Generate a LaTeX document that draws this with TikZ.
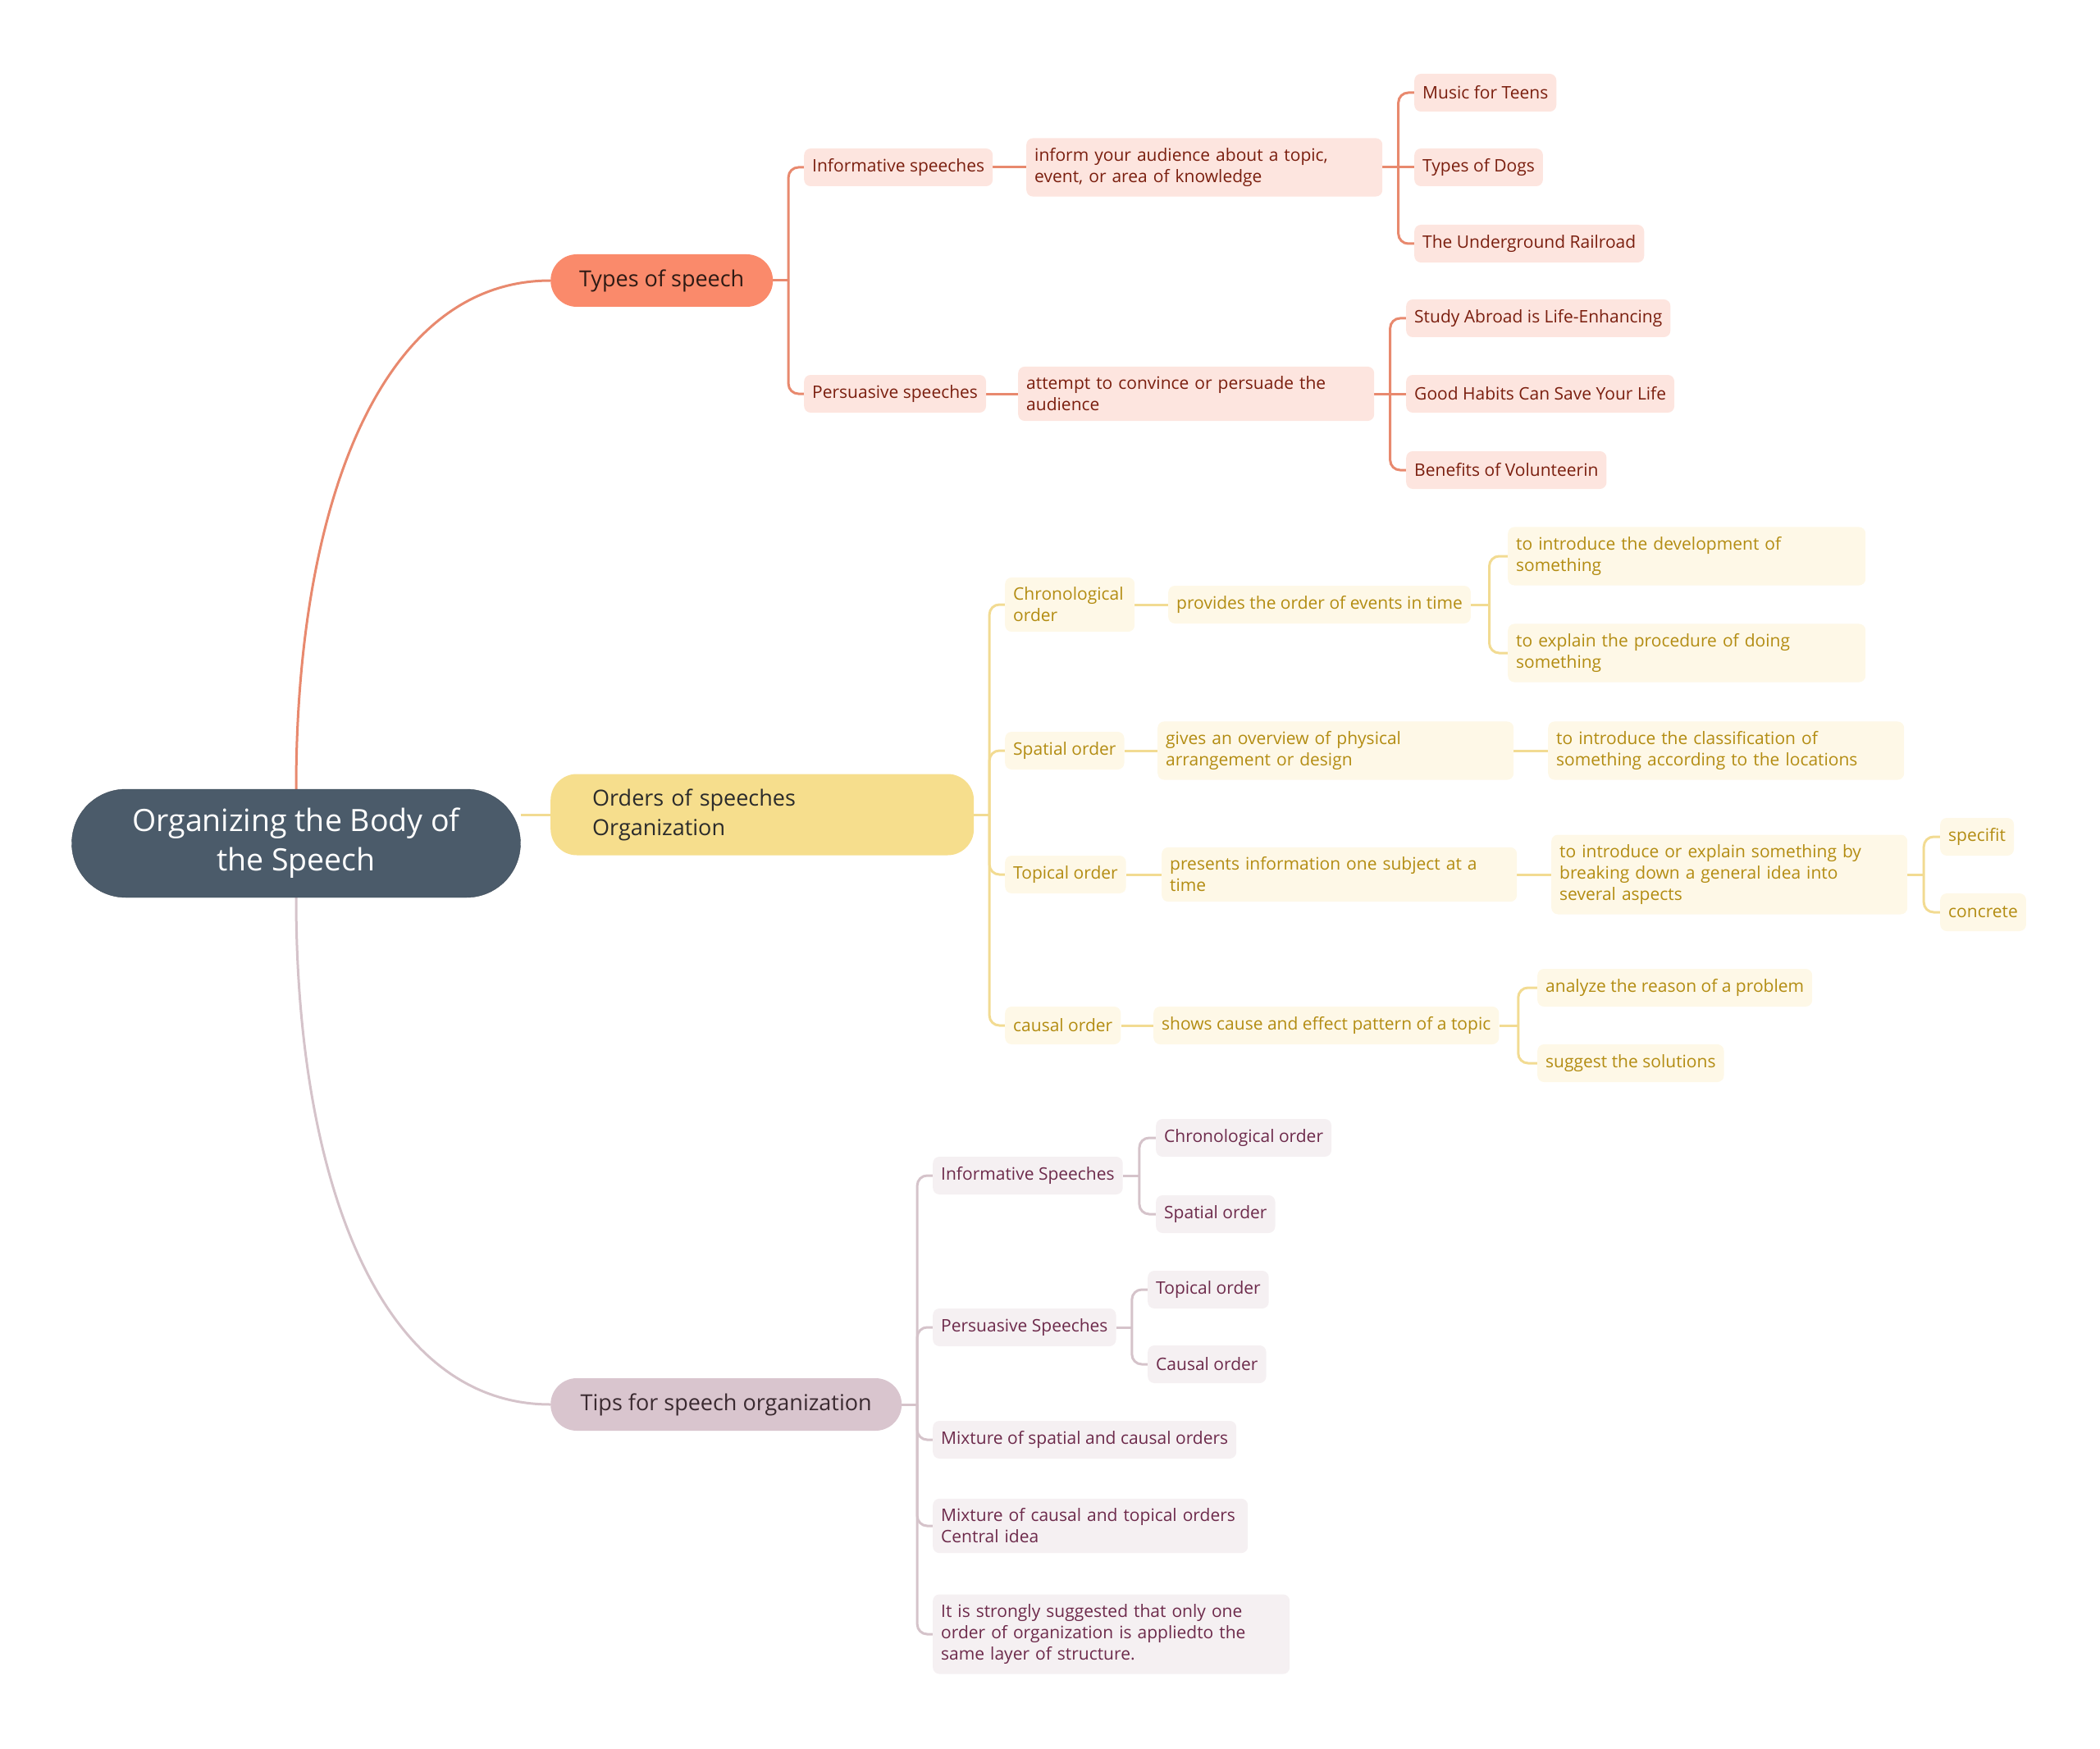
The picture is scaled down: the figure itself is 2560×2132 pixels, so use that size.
\documentclass[tikz,border=0pt]{standalone}
\usepackage{fontspec}
\setmainfont{Open Sans}
\usetikzlibrary{positioning, calc, backgrounds}
\definecolor{RootColor}{HTML}{4B5B6A}
\definecolor{TypeColor}{HTML}{FA8A6B}
\definecolor{TypeInk}{HTML}{2E1A14}
\definecolor{TypeLine}{HTML}{E8896E}
\definecolor{TypeFill}{HTML}{FDE5DF}
\definecolor{TypeText}{HTML}{7A1E0E}
\definecolor{OrderColor}{HTML}{F6DE8D}
\definecolor{OrderInk}{HTML}{2B2B2B}
\definecolor{OrderLine}{HTML}{F2DB92}
\definecolor{OrderFill}{HTML}{FEF8E7}
\definecolor{OrderText}{HTML}{B38C12}
\definecolor{TipColor}{HTML}{D9C5CE}
\definecolor{TipInk}{HTML}{3A2A30}
\definecolor{TipLine}{HTML}{D5C3CA}
\definecolor{TipFill}{HTML}{F5F0F2}
\definecolor{TipText}{HTML}{6D2A4B}
\tikzset{
    rootbox/.style={
        shape=rectangle,
        rounded corners=66,
        fill=RootColor,
        draw=RootColor!85!black,
        text=white,
        minimum width=547,
        minimum height=132,
        align=center,
        font=\fontsize{37.5}{48}\selectfont
    },
    topbox/.style={
        shape=rectangle,
        rounded corners=32,
        fill=#1,
        anchor=west,
        minimum height=64,
        inner xsep=33,
        align=left,
        font=\fontsize{27}{36}\selectfont
    },
    subbox/.style={
        shape=rectangle,
        rounded corners=8,
        fill=#1Fill,
        text=#1Text,
        anchor=west,
        minimum height=46,
        inner xsep=10,
        inner ysep=12,
        align=left,
        font=\fontsize{21}{26}\selectfont
    },
    link/.style={draw=#1, line width=3}
}
% fork from a parent to a child that sits higher or lower
\newcommand{\joinkid}[3]{%
    \draw[link=#1] (#2.east) -- ($(#2.east)!0.5!(#3.west |- #2.east)$) coordinate (jk);
    \draw[link=#1, rounded corners=12] (jk) |- (#3.west);
}
% straight link to a child on the same line
\newcommand{\joinone}[3]{%
    \draw[link=#1] (#2.east) -- (#3.west |- #2.east);
}

\begin{document}
\begin{tikzpicture}[x=1pt, y=-1pt]
\useasboundingbox (0,0) rectangle (2560,2132);

% Root
\node[rootbox] (root) at (361,1028) {Organizing the Body of\\the Speech};

% Main topics
\node[topbox=TypeColor, text=TypeInk, minimum width=271] (types) at (671,342) {Types of speech};
\node[topbox=OrderColor, text=OrderInk, minimum height=99, inner xsep=51, text width=414pt] (orders) at (671,993) {Orders of speeches\\Organization};
\node[topbox=TipColor, text=TipInk, minimum width=428] (tips) at (671,1712) {Tips for speech organization};

% Types of speech
\node[subbox=Type] (t_inf) at (980,204) {Informative speeches};
\node[subbox=Type] (t_per) at (980,480) {Persuasive speeches};
\node[subbox=Type, text width=414pt] (t_inform) at (1251,204) {inform your audience about a topic,\\event, or area of knowledge};
\node[subbox=Type, text width=414pt] (t_attempt) at (1241,480) {attempt to convince or persuade the\\audience};
\node[subbox=Type] (t_music) at (1724,113) {Music for Teens};
\node[subbox=Type] (t_dogs) at (1724,204) {Types of Dogs};
\node[subbox=Type] (t_rail) at (1724,297) {The Underground Railroad};
\node[subbox=Type] (t_study) at (1714,388) {Study Abroad is Life-Enhancing};
\node[subbox=Type] (t_habits) at (1714,480) {Good Habits Can Save Your Life};
\node[subbox=Type] (t_volun) at (1714,573) {Benefits of Volunteerin};

% Orders of speeches
\node[subbox=Order, text width=138pt] (o_chrono) at (1225,737) {Chronological\\order};
\node[subbox=Order] (o_provides) at (1424,737) {provides the order of events in time};
\node[subbox=Order, text width=416pt] (o_dev) at (1838,678) {to introduce the development of\\something};
\node[subbox=Order, text width=416pt] (o_proc) at (1838,796) {to explain the procedure of doing\\something};
\node[subbox=Order] (o_spatial) at (1225,915) {Spatial order};
\node[subbox=Order, text width=414pt] (o_overview) at (1411,915) {gives an overview of physical\\arrangement or design};
\node[subbox=Order, text width=414pt] (o_classif) at (1887,915) {to introduce the classification of\\something according to the locations};
\node[subbox=Order] (o_topical) at (1225,1066) {Topical order};
\node[subbox=Order, text width=413pt] (o_presents) at (1416,1066) {presents information one subject at a\\time};
\node[subbox=Order, text width=414pt] (o_breaking) at (1891,1066) {to introduce or explain something by\\breaking down a general idea into\\several aspects};
\node[subbox=Order] (o_specifit) at (2365,1020) {specifit};
\node[subbox=Order] (o_concrete) at (2365,1112) {concrete};
\node[subbox=Order] (o_causal) at (1225,1250) {causal order};
\node[subbox=Order] (o_shows) at (1406,1250) {shows cause and effect pattern of a topic};
\node[subbox=Order] (o_analyze) at (1874,1204) {analyze the reason of a problem};
\node[subbox=Order] (o_suggest) at (1874,1296) {suggest the solutions};

% Tips for speech organization
\node[subbox=Tip] (p_inf) at (1137,1433) {Informative Speeches};
\node[subbox=Tip] (p_chrono) at (1409,1387) {Chronological order};
\node[subbox=Tip] (p_spatial) at (1409,1480) {Spatial order};
\node[subbox=Tip] (p_per) at (1137,1618) {Persuasive Speeches};
\node[subbox=Tip] (p_topical) at (1399,1572) {Topical order};
\node[subbox=Tip] (p_causal) at (1399,1663) {Causal order};
\node[subbox=Tip] (p_mix1) at (1137,1755) {Mixture of spatial and causal orders};
\node[subbox=Tip, text width=364pt] (p_mix2) at (1137,1860) {Mixture of causal and topical orders\\Central idea};
\node[subbox=Tip, text width=415pt] (p_strong) at (1137,1992) {It is strongly suggested that only one\\order of organization is appliedto the\\same layer of structure.};

% Connectors
\begin{scope}[on background layer]
\draw[link=TypeLine] (root.north) .. controls ($(root.north)+(0,-340)$) and ($(types.west)+(-210,0)$) .. (types.west);
\draw[link=OrderLine] (root.east |- orders.west) -- (orders.west);
\draw[link=TipLine] (root.south) .. controls ($(root.south)+(0,340)$) and ($(tips.west)+(-210,0)$) .. (tips.west);

\joinkid{TypeLine}{types}{t_inf}
\joinkid{TypeLine}{types}{t_per}
\joinone{TypeLine}{t_inf}{t_inform}
\joinone{TypeLine}{t_per}{t_attempt}
\joinkid{TypeLine}{t_inform}{t_music}
\joinone{TypeLine}{t_inform}{t_dogs}
\joinkid{TypeLine}{t_inform}{t_rail}
\joinkid{TypeLine}{t_attempt}{t_study}
\joinone{TypeLine}{t_attempt}{t_habits}
\joinkid{TypeLine}{t_attempt}{t_volun}

\joinkid{OrderLine}{orders}{o_chrono}
\joinkid{OrderLine}{orders}{o_spatial}
\joinkid{OrderLine}{orders}{o_topical}
\joinkid{OrderLine}{orders}{o_causal}
\joinone{OrderLine}{o_chrono}{o_provides}
\joinkid{OrderLine}{o_provides}{o_dev}
\joinkid{OrderLine}{o_provides}{o_proc}
\joinone{OrderLine}{o_spatial}{o_overview}
\joinone{OrderLine}{o_overview}{o_classif}
\joinone{OrderLine}{o_topical}{o_presents}
\joinone{OrderLine}{o_presents}{o_breaking}
\joinkid{OrderLine}{o_breaking}{o_specifit}
\joinkid{OrderLine}{o_breaking}{o_concrete}
\joinone{OrderLine}{o_causal}{o_shows}
\joinkid{OrderLine}{o_shows}{o_analyze}
\joinkid{OrderLine}{o_shows}{o_suggest}

\joinkid{TipLine}{tips}{p_inf}
\joinkid{TipLine}{tips}{p_per}
\joinkid{TipLine}{tips}{p_mix1}
\joinkid{TipLine}{tips}{p_mix2}
\joinkid{TipLine}{tips}{p_strong}
\joinkid{TipLine}{p_inf}{p_chrono}
\joinkid{TipLine}{p_inf}{p_spatial}
\joinkid{TipLine}{p_per}{p_topical}
\joinkid{TipLine}{p_per}{p_causal}
\end{scope}

\end{tikzpicture}
\end{document}
